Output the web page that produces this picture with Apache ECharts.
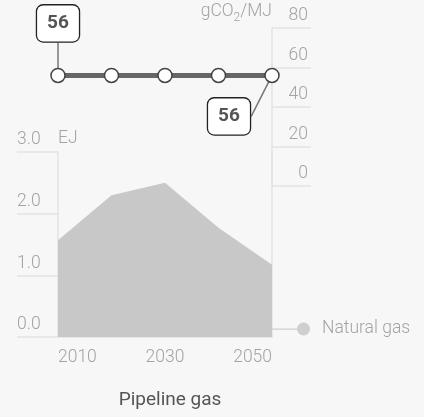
<!DOCTYPE html>
<html>
<head>
<meta charset="utf-8">
<script src="https://cdn.jsdelivr.net/npm/echarts@6/dist/echarts.min.js"></script>
<style>
  html, body { margin: 0; padding: 0; background: #f7f7f7; }
  #chart { width: 424px; height: 417px; }
</style>
</head>
<body>
<div id="chart"></div>
<script>
const years = ["2010", "2020", "2030", "2040", "2050"];
const co2Values = [56, 56, 56, 56, 56];
const gasValues = [1.57, 2.3, 2.5, 1.77, 1.17];
const co2Ticks = { min: 0, max: 80, interval: 20 };
const ejTicks = { min: 0, max: 3, interval: 1 };

const font = "Roboto";
const axisGray = "#e3e3e3";
const textGray = "#a3a3a3";

const chart = echarts.init(document.getElementById("chart"));
const last = co2Values.length - 1;

chart.setOption({
    backgroundColor: "#f7f7f7",
    animation: false,
    textStyle: { fontFamily: font },
    title: {
        text: "Pipeline gas",
        left: 165,
        top: 386,
        textAlign: "center",
        textStyle: { fontFamily: font, fontSize: 19, fontWeight: "normal", color: "#555" },
    },
    legend: {
        data: [{ name: "Natural gas", itemStyle: { color: "#cfcfcf" } }],
        left: 272,
        top: 320,
        padding: 0,
        itemWidth: 38,
        itemHeight: 13,
        icon: "path://M0,6L27,6L27,7.3L0,7.3Z M25,6.5A6.5,6.5 0 1 1 38,6.5A6.5,6.5 0 1 1 25,6.5Z",
        textStyle: { fontFamily: font, fontSize: 17.5, fontWeight: 300, color: textGray, padding: [0, 0, 0, 7] },
    },
    grid: [
        { left: 58, right: 152, top: 28, height: 158 },
        { left: 58, right: 152, top: 152, height: 185 },
    ],
    xAxis: [
        { gridIndex: 0, type: "category", data: years, boundaryGap: false, show: false },
        {
            gridIndex: 1,
            type: "category",
            data: years,
            boundaryGap: false,
            axisLine: { lineStyle: { color: axisGray, width: 1.5 } },
            axisTick: { show: false },
            axisLabel: {
                interval: 1,
                margin: 12,
                alignMinLabel: "left",
                alignMaxLabel: "right",
                fontFamily: font,
                fontSize: 17.5,
                fontWeight: 300,
                color: textGray,
            },
        },
    ],
    yAxis: [
        {
            gridIndex: 0,
            type: "value",
            position: "right",
            min: co2Ticks.min,
            max: co2Ticks.max,
            interval: co2Ticks.interval,
            name: "gCO{sub|2}/MJ",
            nameLocation: "end",
            nameGap: 4,
            nameTextStyle: {
                align: "right",
                verticalAlign: "bottom",
                fontFamily: font,
                fontSize: 17.5,
                fontWeight: 300,
                color: textGray,
                rich: { sub: { fontSize: 12, fontWeight: 300, color: textGray, padding: [12, 0, 0, 0] } },
            },
            splitLine: { show: false },
            axisLine: { show: true, lineStyle: { color: axisGray, width: 1.5 } },
            axisTick: { show: true, length: 39, lineStyle: { color: axisGray, width: 1.5 } },
            axisLabel: {
                align: "right",
                verticalAlign: "bottom",
                margin: 36,
                padding: [0, 0, 3, 0],
                fontFamily: font,
                fontSize: 17.5,
                fontWeight: 300,
                color: textGray,
            },
        },
        {
            gridIndex: 1,
            type: "value",
            position: "left",
            min: ejTicks.min,
            max: ejTicks.max,
            interval: ejTicks.interval,
            name: "EJ",
            nameLocation: "end",
            nameGap: 4,
            nameTextStyle: {
                align: "left",
                verticalAlign: "bottom",
                fontFamily: font,
                fontSize: 17.5,
                fontWeight: 300,
                color: textGray,
            },
            splitLine: { show: false },
            axisLine: { show: true, lineStyle: { color: axisGray, width: 1.5 } },
            axisTick: { show: true, length: 41, lineStyle: { color: axisGray, width: 1.5 } },
            axisLabel: {
                align: "left",
                verticalAlign: "bottom",
                margin: 41,
                padding: [0, 0, 3, 0],
                formatter: (v) => v.toFixed(1),
                fontFamily: font,
                fontSize: 17.5,
                fontWeight: 300,
                color: textGray,
            },
        },
        {
            gridIndex: 1,
            type: "value",
            position: "right",
            min: ejTicks.min,
            max: ejTicks.max,
            axisLine: { show: true, lineStyle: { color: axisGray, width: 1.5 } },
            axisTick: { show: false },
            axisLabel: { show: false },
            splitLine: { show: false },
        },
    ],
    series: [
        {
            name: "Natural gas",
            type: "line",
            xAxisIndex: 1,
            yAxisIndex: 1,
            data: gasValues,
            symbol: "none",
            lineStyle: { width: 0 },
            itemStyle: { color: "#c8c8c8" },
            areaStyle: { color: "#c8c8c8", opacity: 1 },
        },
        {
            name: "CO2",
            type: "line",
            xAxisIndex: 0,
            yAxisIndex: 0,
            data: co2Values.map((v, i) => ({ value: v, label: { show: i === 0 || i === last } })),
            symbol: "circle",
            symbolSize: 14,
            lineStyle: { color: "#666", width: 5 },
            itemStyle: { color: "#fff", borderColor: "#444", borderWidth: 1.5 },
            label: {
                show: false,
                fontFamily: font,
                fontSize: 19,
                fontWeight: "bold",
                color: "#555",
                backgroundColor: "#fff",
                borderColor: "#222",
                borderWidth: 1.3,
                borderRadius: 6,
                padding: [8, 10],
                lineHeight: 20,
            },
            labelLine: { show: true, lineStyle: { color: "#777", width: 1.5 } },
            labelLayout: function (params) {
                const cx = params.rect.x + params.rect.width / 2;
                const cy = params.rect.y + params.rect.height / 2;
                if (params.dataIndex === 0) {
                    return { x: cx, y: cy - 52, align: "center", verticalAlign: "middle" };
                }
                return { x: cx - 43, y: cy + 41, align: "center", verticalAlign: "middle" };
            },
            z: 5,
        },
    ],
});
</script>
</body>
</html>
